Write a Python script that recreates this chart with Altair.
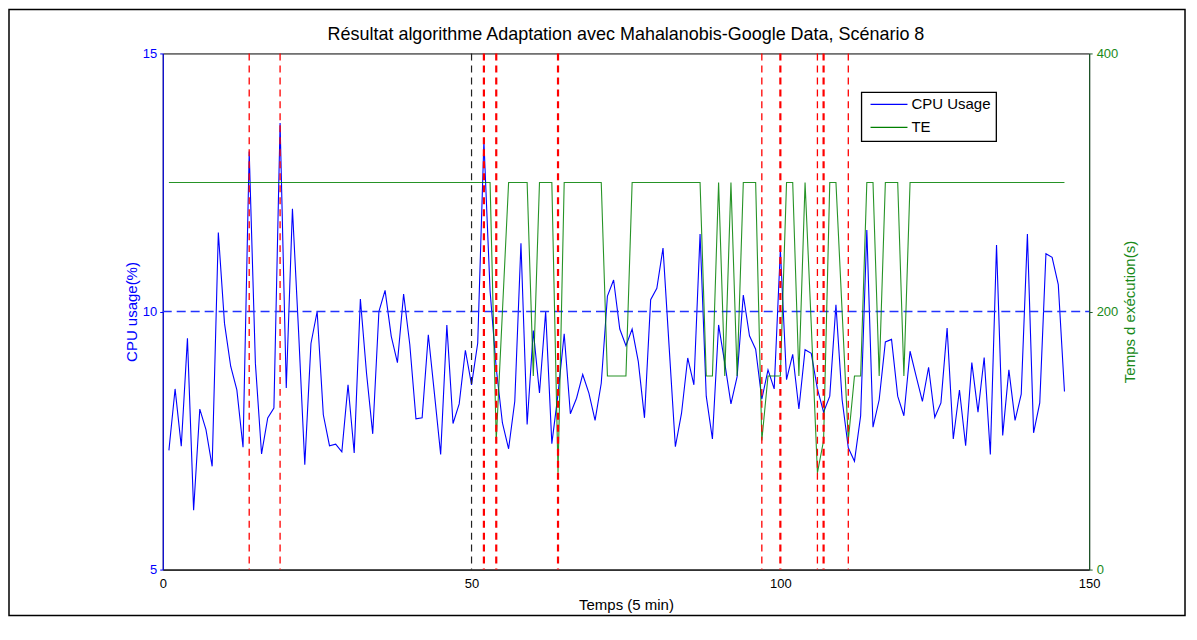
import altair as alt
import pandas as pd

FONT = "Liberation Sans"

# ---------------- data ----------------
t = list(range(1, 147))

cpu = [
    7.31, 8.50, 7.39, 9.48, 6.15, 8.11, 7.71, 7.00, 11.53, 9.77,
    8.94, 8.48, 7.37, 13.10, 9.00, 7.24, 7.94, 8.13, 13.65, 8.52,
    11.99, 9.60, 7.03, 9.38, 10.00, 8.00, 7.40, 7.43, 7.28, 8.58,
    7.26, 10.24, 8.80, 7.63, 10.00, 10.41, 9.52, 9.01, 10.34, 9.36,
    7.92, 7.94, 9.55, 8.40, 7.23, 9.74, 7.83, 8.21, 9.25, 8.58,
    9.39, 13.30, 10.40, 8.90, 7.84, 7.34, 8.26, 11.32, 7.81, 9.63,
    8.42, 10.00, 7.44, 8.40, 9.57, 8.02, 8.32, 8.78, 8.42, 7.89,
    8.61, 10.30, 10.61, 9.66, 9.34, 9.66, 9.03, 7.94, 10.23, 10.45,
    11.23, 9.30, 7.38, 8.03, 9.10, 8.58, 11.50, 8.36, 7.53, 9.74,
    9.00, 8.21, 8.74, 10.32, 9.53, 9.27, 8.30, 8.87, 8.50, 11.20,
    8.68, 9.17, 8.11, 9.26, 9.19, 8.50, 8.05, 8.36, 10.13, 8.29,
    7.36, 7.10, 7.98, 11.58, 7.76, 8.29, 9.41, 9.46, 8.36, 7.98,
    9.23, 8.74, 8.26, 8.92, 7.95, 8.23, 9.68, 7.53, 8.48, 7.40,
    9.01, 8.05, 9.11, 7.23, 11.29, 7.60, 8.87, 7.89, 8.40, 11.50,
    7.65, 8.23, 11.12, 11.05, 10.52, 8.45,
]

te = [
    300, 300, 300, 300, 300, 300, 300, 300, 300, 300,
    300, 300, 300, 300, 300, 300, 300, 300, 300, 300,
    300, 300, 300, 300, 300, 300, 300, 300, 300, 300,
    300, 300, 300, 300, 300, 300, 300, 300, 300, 300,
    300, 300, 300, 300, 300, 300, 300, 300, 300, 300,
    300, 300, 300, 100, 200, 300, 300, 300, 300, 150,
    300, 300, 300, 75, 300, 300, 300, 300, 300, 300,
    300, 150, 150, 150, 150, 300, 300, 300, 300, 300,
    300, 300, 300, 300, 300, 300, 300, 150, 150, 300,
    150, 300, 150, 300, 300, 300, 100, 150, 150, 150,
    300, 300, 150, 300, 190, 75, 100, 300, 300, 200,
    100, 150, 150, 300, 300, 150, 300, 300, 300, 150,
    300, 300, 300, 300, 300, 300, 300, 300, 300, 300,
    300, 300, 300, 300, 300, 300, 300, 300, 300, 300,
    300, 300, 300, 300, 300, 300,
]

red_thin_events = [14, 19, 97, 106, 111]
red_thick_events = [52, 54, 64, 100, 107]
black_events = [50]

# CPU threshold line (10 %) across the whole time range
thr_t = [0, 150]
thr_value = [10, 10]

x_ticks = [0, 50, 100, 150]
cpu_ticks = [5, 10, 15]
te_ticks = [0, 200, 400]
series_names = ["CPU Usage", "TE"]
legend_rows = [0, 1]

title_text = "Résultat algorithme Adaptation avec Mahalanobis-Google Data, Scénario 8"

# ---------------- tables ----------------
df_cpu = pd.DataFrame({"t": t, "value": cpu, "series": series_names[0]})
df_te = pd.DataFrame({"t": t, "value": te, "series": series_names[1]})
df_thr = pd.DataFrame({"t": thr_t, "value": thr_value})
df_red_thin = pd.DataFrame({"t": red_thin_events})
df_red_thick = pd.DataFrame({"t": red_thick_events})
df_black = pd.DataFrame({"t": black_events})
df_leg = pd.DataFrame({"series": series_names, "row": legend_rows})

W, H = 928, 517

x_enc = alt.X(
    "t:Q",
    scale=alt.Scale(domain=[0, 150], nice=False),
    axis=alt.Axis(
        values=x_ticks, title="Temps (5 min)", ticks=False,
        labelColor="black", titleColor="black", domainColor="black",
        labelPadding=8, titlePadding=7, labelFlush=False, labelOverlap=False,
        grid=False,
    ),
)

cpu_domain = [5, 15]
te_domain = [0, 400]
color_scale = alt.Scale(domain=series_names, range=["#0000ff", "#008000"])

cpu_axis = alt.Axis(
    orient="left", values=cpu_ticks, title="CPU usage(%)",
    titleColor="#0000ff", labelColor="#0000ff", domainColor="#0000ff",
    tickColor="#0000ff", tickSize=3, labelPadding=3, titlePadding=3,
    labelFlush=False, labelOverlap=False, grid=False,
)

te_axis = alt.Axis(
    orient="right", values=te_ticks, title="Temps d exécution(s)",
    titleColor="#1a8a1a", labelColor="#1a8a1a", domainColor="#1d5c2a",
    tickColor="#1d5c2a", tickSize=3, labelPadding=4, titlePadding=5,
    titleAngle=270, titleBaseline="top",
    labelFlush=False, labelOverlap=False, grid=False,
)

cpu_y_scale = alt.Scale(domain=cpu_domain, nice=False, zero=False)

cpu_line = alt.Chart(df_cpu).mark_line(strokeWidth=1.1).encode(
    x=x_enc,
    y=alt.Y("value:Q", scale=cpu_y_scale, axis=cpu_axis),
    color=alt.Color("series:N", scale=color_scale, legend=None),
)

thr_line = alt.Chart(df_thr).mark_line(
    strokeDash=[9, 5], strokeWidth=1.6
).encode(
    x=x_enc,
    y=alt.Y("value:Q", scale=cpu_y_scale, axis=cpu_axis),
    color=alt.value("#2233ff"),
)

left_layer = alt.layer(cpu_line, thr_line)

te_line = alt.Chart(df_te).mark_line(strokeWidth=1.1, opacity=0.85).encode(
    x=x_enc,
    y=alt.Y("value:Q", scale=alt.Scale(domain=te_domain, nice=False),
            axis=te_axis),
    color=alt.Color("series:N", scale=color_scale, legend=None),
)

red_thin = alt.Chart(df_red_thin).mark_rule(
    color="#ff0000", strokeDash=[7, 5], strokeWidth=1.3
).encode(x=x_enc)

red_thick = alt.Chart(df_red_thick).mark_rule(
    color="#ff0000", strokeDash=[7, 5], strokeWidth=2.2
).encode(x=x_enc)

black_rule = alt.Chart(df_black).mark_rule(
    color="#222222", strokeDash=[7, 5], strokeWidth=1.2
).encode(x=x_enc)

# ---- legend box (drawn like MATLAB's) ----
leg_box = alt.Chart(alt.Data(values=[{"k": 1}])).mark_rect(
    fill="white", stroke="black", strokeWidth=1.3
).encode(
    x=alt.value(700), x2=alt.value(835),
    y=alt.value(39), y2=alt.value(88),
)

leg_base = alt.Chart(df_leg).transform_calculate(
    ypos="51 + 23 * datum.row"
)

leg_lines = leg_base.mark_rule(strokeWidth=1.3).encode(
    x=alt.value(709), x2=alt.value(746),
    y=alt.Y("ypos:Q", scale=None, axis=None),
    color=alt.Color("series:N", scale=color_scale, legend=None),
)

leg_text = leg_base.mark_text(
    align="left", baseline="middle", font=FONT, fontSize=15, color="black"
).encode(
    x=alt.value(750),
    y=alt.Y("ypos:Q", scale=None, axis=None),
    text="series:N",
)

frame = alt.Chart(alt.Data(values=[{"k": 1}])).mark_rect(
    filled=False, stroke="black", strokeWidth=1.5
).encode(
    x=alt.value(-154), x2=alt.value(1024),
    y=alt.value(-44), y2=alt.value(563),
)

chart = (
    alt.layer(
        left_layer, te_line, red_thin, red_thick, black_rule,
        leg_box, leg_lines, leg_text, frame,
    )
    .resolve_scale(y="independent")
    .properties(
        width=W, height=H,
        autosize=alt.AutoSizeParams(type="none"),
        padding={"left": 155, "top": 45, "right": 100, "bottom": 60},
        title=alt.Title(
            title_text, font=FONT, fontSize=18, fontWeight="normal",
            color="black", offset=8, dy=43, anchor="middle",
        ),
    )
    .configure_view(stroke="black", strokeWidth=1)
    .configure_axis(
        labelFont=FONT, titleFont=FONT, labelFontSize=13,
        titleFontSize=15, titleFontWeight="normal",
    )
)

chart.save("out.html", embed_options={"renderer": "svg", "actions": False})
